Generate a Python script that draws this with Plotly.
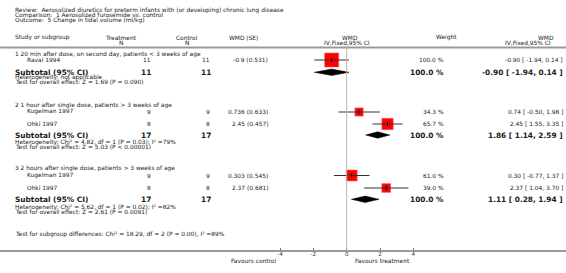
import math
import plotly.graph_objects as go

# ---------------- data ----------------
review = "Review:  Aerosolized diuretics for preterm infants with (or developing) chronic lung disease"
comparison = "Comparison:  1 Aerosolized furosemide vs. control"
outcome = "Outcome:  5 Change in tidal volume (ml/kg)"

group_titles = [
    "1 20 min after dose, on second day, patients < 3 weeks of age",
    "2 1 hour after single dose, patients > 3 weeks of age",
    "3 2 hours after single dose, patients > 3 weeks of age",
]
study_names = ["Raval 1994", "Kugelman 1997", "Ohki 1997", "Kugelman 1997", "Ohki 1997"]
treat_n = [11, 9, 8, 9, 8]
ctrl_n = [11, 9, 8, 9, 8]
wmd_raw = [-0.9, 0.736, 2.45, 0.303, 2.37]
se_raw = [0.531, 0.633, 0.457, 0.545, 0.681]
wmd = [-0.90, 0.74, 2.45, 0.30, 2.37]
ci_low = [-1.94, -0.50, 1.55, -0.77, 1.04]
ci_high = [0.14, 1.98, 3.35, 1.37, 3.70]
weight = [100.0, 34.3, 65.7, 61.0, 39.0]

sub_treat_n = [11, 17, 17]
sub_ctrl_n = [11, 17, 17]
sub_wmd = [-0.90, 1.86, 1.11]
sub_low = [-1.94, 1.14, 0.28]
sub_high = [0.14, 2.59, 1.94]
sub_weight = [100.0, 100.0, 100.0]
heterogeneity = [
    "Heterogeneity: not applicable",
    "Heterogeneity: Chi² = 4.82, df = 1 (P = 0.03); I² =79%",
    "Heterogeneity: Chi² = 5.62, df = 1 (P = 0.02); I² =82%",
]
overall_effect = [
    "Test for overall effect: Z = 1.69 (P = 0.090)",
    "Test for overall effect: Z = 5.03 (P < 0.00001)",
    "Test for overall effect: Z = 2.61 (P = 0.0091)",
]
subgroup_diff = "Test for subgroup differences: Chi² = 18.29, df = 2 (P = 0.00), I² =89%"
tick_vals = [-4, -2, 0, 2, 4]
tick_text = ["-4", "-2", "0", "2", "4"]
favours_left = "Favours control"
favours_right = "Favours treatment"

# ---------------- layout (pixel rows) ----------------
W, H = 566, 273
PLOT_H = 250
group_y = [54.5, 106.0, 168.3]
study_y = [60.0, 112.0, 124.0, 175.5, 188.0]
sub_y = [72.3, 135.0, 199.3]
het_y = [77.4, 142.6, 207.6]
test_y = [82.2, 147.4, 212.4]
X0_PX, PX_PER_UNIT = 346.7, 16.67
x_min = -X0_PX / PX_PER_UNIT
x_max = (W - X0_PX) / PX_PER_UNIT

FONT = "DejaVu Sans"
FS = 5.9
FSB = 7.4
TXT = "#1a1a1a"


def px(x):
    return x / W


def py(y):
    return 1 - y / PLOT_H


ann = []


def text(x, y, s, anchor="left", size=FS, bold=False, color=TXT):
    ann.append(dict(
        x=px(x), y=py(y), xref="paper", yref="paper", text=("<b>%s</b>" % s) if bold else s,
        showarrow=False, xanchor=anchor, yanchor="middle",
        font=dict(family=FONT, size=size, color=color),
    ))


# title block
text(13, 10, review)
text(13, 15.4, comparison)
text(13, 20.8, outcome)

# header
text(13, 37.5, "Study or subgroup")
text(121, 37.5, "Treatment", "center")
text(121, 43.5, "N", "center")
text(187, 37.5, "Control", "center")
text(187, 43.5, "N", "center")
text(227, 37.5, "WMD (SE)")
text(350, 37.5, "WMD", "center")
text(347, 43.5, "IV,Fixed,95% CI", "center")
text(446, 37.5, "Weight", "center")
text(556, 37.5, "WMD", "right")
text(528, 43.5, "IV,Fixed,95% CI", "center")

fig = go.Figure()

for g in range(3):
    text(13, group_y[g], group_titles[g])

for i in range(len(study_names)):
    y = study_y[i]
    text(25, y, study_names[i])
    text(153, y, str(treat_n[i]), "right")
    text(212, y, str(ctrl_n[i]), "right")
    text(270, y, "%s (%s)" % (wmd_raw[i], se_raw[i]), "right")
    text(446, y, "%.1f %%" % weight[i], "right")
    text(565, y, "%.2f [ %.2f, %.2f ]" % (wmd[i], ci_low[i], ci_high[i]), "right")
    size = 14.0 * math.sqrt(weight[i] / 100.0)
    fig.add_trace(go.Scatter(
        x=[wmd[i]], y=[y], mode="markers",
        marker=dict(symbol="square", size=size, color="#ff0000", line=dict(width=0.6, color="#ff5a5a")),
        hoverinfo="skip", showlegend=False, cliponaxis=False,
    ))
    fig.add_trace(go.Scatter(
        x=[ci_low[i], ci_high[i]], y=[y, y], mode="lines",
        line=dict(color="#333333", width=1), hoverinfo="skip", showlegend=False, cliponaxis=False,
    ))
    fig.add_trace(go.Scatter(
        x=[wmd[i]], y=[y], mode="markers",
        marker=dict(symbol="line-ns", size=3, line=dict(width=1, color="#000000")),
        hoverinfo="skip", showlegend=False, cliponaxis=False,
    ))

for g in range(3):
    y = sub_y[g]
    text(13, y, "Subtotal (95% CI)", size=FSB, bold=True)
    text(153, y, str(sub_treat_n[g]), "right", size=FSB, bold=True)
    text(213, y, str(sub_ctrl_n[g]), "right", size=FSB, bold=True)
    text(446, y, "%.1f %%" % sub_weight[g], "right", size=FSB, bold=True)
    text(565, y, "%.2f [ %.2f, %.2f ]" % (sub_wmd[g], sub_low[g], sub_high[g]), "right", size=FSB, bold=True)
    text(13, het_y[g], heterogeneity[g])
    text(13, test_y[g], overall_effect[g])
    fig.add_trace(go.Scatter(
        x=[sub_low[g], sub_wmd[g], sub_high[g], sub_wmd[g], sub_low[g]],
        y=[y, y - 3.2, y, y + 3.2, y],
        mode="lines", fill="toself", fillcolor="#000000", line=dict(color="#000000", width=0.5),
        hoverinfo="skip", showlegend=False, cliponaxis=False,
    ))

text(13, 234, subgroup_diff)
text(278, 261, favours_left, "right")
text(353, 261, favours_right, "left")

shapes = [
    dict(type="line", xref="paper", yref="y", x0=0, x1=1, y0=47.5, y1=47.5,
         line=dict(color="#9a9a9a", width=2)),
    dict(type="line", xref="x", yref="y", x0=0, x1=0, y0=47.5, y1=250,
         line=dict(color="#b8b8b8", width=1)),
]

fig.update_layout(
    width=W, height=H,
    margin=dict(l=0, r=0, t=0, b=H - PLOT_H, pad=0),
    paper_bgcolor="white", plot_bgcolor="white",
    showlegend=False,
    annotations=ann, shapes=shapes,
    xaxis=dict(range=[x_min, x_max], showgrid=False, zeroline=False, showline=True,
               linecolor="#9a9a9a", linewidth=2, ticks="inside", ticklen=2, tickwidth=1,
               tickcolor="#777777", tickvals=tick_vals, ticktext=tick_text,
               ticklabelstandoff=-3,
               tickfont=dict(family=FONT, size=5.6, color="#333333"), fixedrange=True),
    yaxis=dict(range=[PLOT_H, 0], visible=False, fixedrange=True),
)

fig.write_html(
    "out.html",
    config={"displayModeBar": False},
    post_script="document.body.style.margin='0';document.body.style.padding='0';",
)
